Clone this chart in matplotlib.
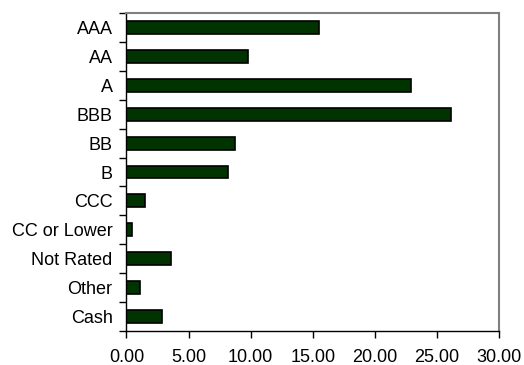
import numpy as np
import matplotlib.pyplot as plt
from matplotlib.ticker import FixedLocator, FixedFormatter

plt.rcParams['font.family'] = ['Liberation Sans', 'DejaVu Sans']

ratings = ['AAA', 'AA', 'A', 'BBB', 'BB', 'B', 'CCC', 'CC or Lower',
           'Not Rated', 'Other', 'Cash']
weights = [15.5, 9.8, 22.9, 26.1, 8.75, 8.2, 1.45, 0.42, 3.55, 1.1, 2.85]
xticks = [0, 5, 10, 15, 20, 25, 30]

fig = plt.figure(figsize=(5.24, 3.65), dpi=100)
ax = fig.add_axes([0.2414, 0.094, 0.711, 0.8695])

pos = np.arange(len(ratings))[::-1]
ax.barh(pos, weights, height=0.45, color='#003300', edgecolor='black', linewidth=1.2)

ax.set_xlim(0, 30)
ax.set_ylim(-0.5, len(ratings) - 0.5)
ax.set_xticks(xticks)
ax.set_xticklabels(['%.2f' % v for v in xticks], fontsize=13)

# labels at bar centres, tick marks on the category boundaries
ax.yaxis.set_major_locator(FixedLocator(pos))
ax.yaxis.set_major_formatter(FixedFormatter(ratings))
ax.yaxis.set_minor_locator(FixedLocator(np.arange(len(ratings) + 1) - 0.5))
ax.tick_params(axis='y', which='major', length=0, labelsize=13, pad=10)
ax.tick_params(axis='y', which='minor', length=5, width=1, color='black')
ax.tick_params(axis='x', length=5, width=1, pad=8)

for side in ['top', 'right']:
    ax.spines[side].set_color('#808080')
    ax.spines[side].set_linewidth(1.5)
for side in ['left', 'bottom']:
    ax.spines[side].set_color('black')
    ax.spines[side].set_linewidth(1.0)

fig.savefig('out.png', dpi=100)
